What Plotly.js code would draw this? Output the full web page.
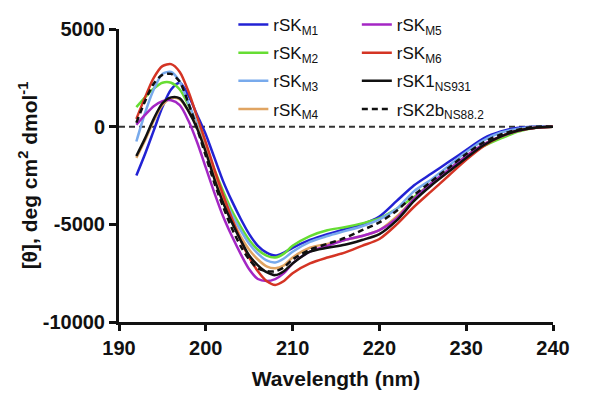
<!DOCTYPE html>
<html>
<head>
<meta charset="utf-8">
<script src="https://cdn.plot.ly/plotly-3.0.1.min.js"></script>
<style>
  html, body { margin: 0; padding: 0; background: #fff; }
  #myDiv { width: 602px; height: 400px; }
</style>
</head>
<body>
<div id="myDiv"></div>
<script>
// wavelength (nm)
var wl = [192,193,194,195,196,197,198,199,200,201,202,203,204,205,206,207,208,209,210,212,214,216,218,220,222,224,226,228,230,232,234,236,238,240];

// mean residue ellipticity, deg cm2 dmol-1
var rSK_M1 = [-2500,-1400,-200,1000,1900,2250,1600,600,-400,-1600,-2800,-3800,-4700,-5500,-6100,-6450,-6600,-6450,-6200,-5800,-5500,-5250,-5000,-4600,-3800,-3000,-2400,-1800,-1200,-600,-250,-50,0,0];
var rSK_M2 = [1000,1500,1950,2250,2250,1900,1100,100,-1000,-2200,-3300,-4300,-5100,-5800,-6300,-6600,-6700,-6500,-6100,-5600,-5300,-5150,-4950,-4700,-4200,-3600,-2900,-2200,-1500,-1000,-600,-250,-50,0];
var rSK_M3 = [-760,700,1900,2700,2800,2300,1200,100,-1100,-2400,-3500,-4500,-5300,-6000,-6500,-6850,-6950,-6750,-6400,-5900,-5600,-5350,-5100,-4750,-4200,-3300,-2700,-2000,-1300,-700,-300,-100,0,0];
var rSK_M4 = [-1600,-700,300,1100,1450,1400,800,0,-1200,-2500,-3700,-4700,-5600,-6300,-6800,-7150,-7250,-7100,-6700,-6200,-6000,-5800,-5600,-5300,-4600,-3700,-2900,-2200,-1500,-900,-500,-200,-50,0];
var rSK_M5 = [100,600,1050,1300,1350,1100,300,-800,-2100,-3400,-4600,-5600,-6500,-7300,-7800,-7900,-7800,-7500,-7000,-6400,-6100,-5800,-5600,-5300,-4700,-3700,-2900,-2200,-1500,-900,-500,-200,-50,0];
var rSK_M6 = [400,1500,2500,3100,3200,2800,1800,500,-800,-2200,-3500,-4700,-5800,-6700,-7400,-7900,-8100,-7900,-7500,-7000,-6700,-6450,-6100,-5750,-5000,-4100,-3300,-2500,-1700,-1000,-500,-200,-50,0];
var rSK1_NS931 = [-1500,-600,400,1200,1500,1450,800,-100,-1300,-2700,-3900,-4900,-5800,-6600,-7100,-7450,-7600,-7400,-7000,-6400,-6200,-6050,-5800,-5500,-4800,-3800,-3000,-2300,-1600,-950,-500,-200,-50,0];
var rSK2b_NS88 = [200,1300,2200,2650,2700,2300,1200,-100,-1500,-2900,-4100,-5200,-6100,-6800,-7250,-7400,-7400,-7200,-6800,-6300,-6000,-5700,-5300,-4900,-4300,-3500,-2800,-2100,-1400,-800,-400,-150,0,0];

var yTicks = [5000, 0, -5000, -10000];
var yTickText = ['5000', '0', '-5000', '-10000'];
var xTicks = [190, 200, 210, 220, 230, 240];

function tr(y, name, color, dash, legend) {
  return {
    x: wl, y: y, name: name, type: 'scatter', mode: 'lines',
    line: {color: color, width: 2.5, dash: dash || 'solid', shape: 'spline', smoothing: 0.8},
    legend: legend, legendgroup: name
  };
}

var data = [
  tr(rSK_M1, 'rSK<sub>M1</sub>', '#2222d4', null, 'legend'),
  tr(rSK_M2, 'rSK<sub>M2</sub>', '#66dd33', null, 'legend'),
  tr(rSK_M3, 'rSK<sub>M3</sub>', '#78aaec', null, 'legend'),
  tr(rSK_M4, 'rSK<sub>M4</sub>', '#e0a462', null, 'legend'),
  tr(rSK_M5, 'rSK<sub>M5</sub>', '#a426c4', null, 'legend2'),
  tr(rSK_M6, 'rSK<sub>M6</sub>', '#d43424', null, 'legend2'),
  tr(rSK1_NS931, 'rSK1<sub>NS931</sub>', '#111111', null, 'legend2'),
  tr(rSK2b_NS88, 'rSK2b<sub>NS88.2</sub>', '#111111', '6px,4px', 'legend2')
];

var font = 'Liberation Sans, Arial, sans-serif';
var legendStyle = {
  x: 0.2635, y: 1.075, xanchor: 'left', yanchor: 'top',
  bgcolor: 'rgba(0,0,0,0)', tracegroupgap: 3,
  font: {family: font, size: 17, color: '#111'}
};

var layout = {
  width: 602,
  height: 400,
  margin: {l: 119, r: 49, t: 29, b: 78, autoexpand: false},
  paper_bgcolor: '#fff',
  plot_bgcolor: '#fff',
  showlegend: true,
  font: {family: font, color: '#111'},
  xaxis: {
    range: [190, 240],
    tickvals: xTicks,
    showgrid: false, zeroline: false,
    showline: true, linewidth: 3, linecolor: '#111',
    ticks: 'outside', ticklen: 6, tickwidth: 3, tickcolor: '#111',
    tickfont: {family: font, size: 20, color: '#111', weight: 'bold'},
    title: {text: '<b>Wavelength (nm)</b>', font: {family: font, size: 21, color: '#111'}, standoff: 14}
  },
  yaxis: {
    range: [-10000, 5000],
    tickvals: yTicks, ticktext: yTickText,
    showgrid: false, zeroline: false,
    showline: true, linewidth: 3, linecolor: '#111',
    ticks: 'outside', ticklen: 7, tickwidth: 3, tickcolor: '#111',
    tickfont: {family: font, size: 20, color: '#111', weight: 'bold'},
    title: {text: '<b>[θ], deg cm<sup>2</sup> dmol<sup>-1</sup></b>', font: {family: font, size: 21, color: '#111'}, standoff: 0}
  },
  legend: Object.assign({}, legendStyle),
  legend2: Object.assign({}, legendStyle, {x: 0.548}),
  shapes: [{
    type: 'line', xref: 'x', yref: 'y', x0: 190, x1: 240, y0: 0, y1: 0,
    line: {color: '#333', width: 2, dash: '6px,4px'}, layer: 'below'
  }]
};

Plotly.newPlot('myDiv', data, layout, {displayModeBar: false, staticPlot: true});
</script>
</body>
</html>
